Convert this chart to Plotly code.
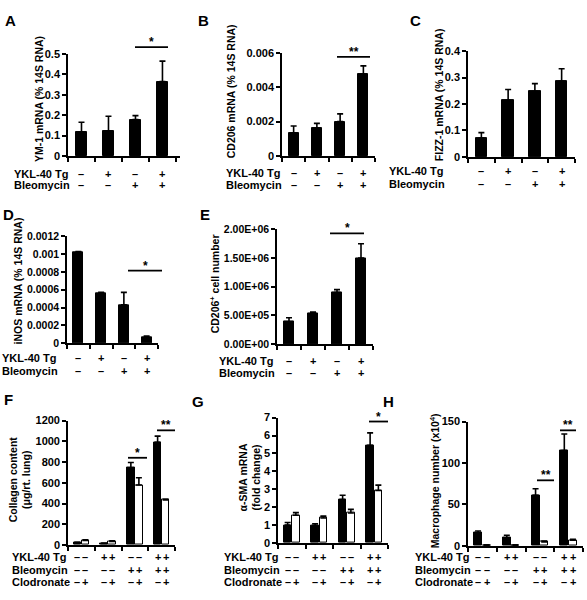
import plotly.graph_objects as go

# ---------------- data ----------------
groups4 = [0, 1, 2, 3]
ykl_signs_4 = ["–", "+", "–", "+"]
bleo_signs_4 = ["–", "–", "+", "+"]

ym1_mean = [0.115, 0.123, 0.178, 0.365]
ym1_err = [0.050, 0.072, 0.020, 0.100]

cd206_mean = [0.00135, 0.0016, 0.0020, 0.00475]
cd206_err = [0.00040, 0.00030, 0.00045, 0.00050]

fizz1_mean = [0.071, 0.213, 0.247, 0.286]
fizz1_err = [0.021, 0.042, 0.030, 0.047]

inos_mean = [0.00102, 0.00056, 0.00043, 0.00007]
inos_err = [0.00001, 0.00001, 0.00014, 0.00001]

cd206cells_mean = [3.9e5, 5.4e5, 9.0e5, 1.5e6]
cd206cells_err = [7e4, 2e4, 5e4, 2.5e5]

# grouped panels (black = no clodronate, white = clodronate)
ykl_signs_8 = ["–", "–", "+", "+", "–", "–", "+", "+"]
bleo_signs_8 = ["–", "–", "–", "–", "+", "+", "+", "+"]
clod_signs_8 = ["–", "+", "–", "+", "–", "+", "–", "+"]

collagen_black = [20, 15, 745, 990]
collagen_black_err = [5, 5, 50, 60]
collagen_white = [45, 35, 578, 435]
collagen_white_err = [5, 5, 70, 6]

sma_black = [1.0, 0.95, 2.42, 5.45]
sma_black_err = [0.15, 0.12, 0.25, 0.70]
sma_white = [1.55, 1.40, 1.68, 2.93]
sma_white_err = [0.15, 0.10, 0.20, 0.30]

mac_black = [16, 10, 61, 115]
mac_black_err = [2, 3, 8, 20]
mac_white = [1, 1, 5, 7]
mac_white_err = [0.5, 0.5, 1, 1]

# tick labels
ticks_A = [0, 0.1, 0.2, 0.3, 0.4, 0.5]
ticks_A_txt = ["0", "0.1", "0.2", "0.3", "0.4", "0.5"]
ticks_B = [0, 0.002, 0.004, 0.006]
ticks_B_txt = ["0", "0.002", "0.004", "0.006"]
ticks_C = [0, 0.1, 0.2, 0.3, 0.4]
ticks_C_txt = ["0", "0.1", "0.2", "0.3", "0.4"]
ticks_D = [0, 0.0002, 0.0004, 0.0006, 0.0008, 0.001, 0.0012]
ticks_D_txt = ["0", "0.0002", "0.0004", "0.0006", "0.0008", "0.001", "0.0012"]
ticks_E = [0, 5e5, 1e6, 1.5e6, 2e6]
ticks_E_txt = ["0.00E+00", "5.00E+05", "1.00E+06", "1.50E+06", "2.00E+06"]
ticks_F = [0, 200, 400, 600, 800, 1000, 1200]
ticks_F_txt = ["0", "200", "400", "600", "800", "1000", "1200"]
ticks_G = [0, 1, 2, 3, 4, 5, 6, 7]
ticks_G_txt = ["0", "1", "2", "3", "4", "5", "6", "7"]
ticks_H = [0, 50, 100, 150]
ticks_H_txt = ["0", "50", "100", "150"]

# ---------------- layout helpers ----------------
W, H = 587, 600
FONT = "Liberation Sans, Arial, sans-serif"
TAB = 11
TITLE = 10.5


def px(x):
    return x / W


def py(y):
    return 1 - y / H


fig = go.Figure()
annotations = []
shapes = []

# panel boxes in pixels: x0, x1, ytop, ybottom
panels = [
    dict(box=(68, 180, 49, 153), yr=0.5, xr=3.65, tv=ticks_A, tt=ticks_A_txt, fs=11),
    dict(box=(282, 375, 48, 153), yr=0.006, xr=3.5, tv=ticks_B, tt=ticks_B_txt, fs=11),
    dict(box=(468, 575, 46, 154), yr=0.4, xr=3.5, tv=ticks_C, tt=ticks_C_txt, fs=11),
    dict(box=(67, 158, 235, 344), yr=0.0012, xr=3.5, tv=ticks_D, tt=ticks_D_txt, fs=10.5),
    dict(box=(277, 373, 228, 345), yr=2e6, xr=3.5, tv=ticks_E, tt=ticks_E_txt, fs=10.5),
    dict(box=(68, 175, 423, 550), yr=1200, xr=3.5, tv=ticks_F, tt=ticks_F_txt, fs=11),
    dict(box=(278, 388, 420, 548), yr=7, xr=3.5, tv=ticks_G, tt=ticks_G_txt, fs=11),
    dict(box=(468, 583, 424, 551), yr=150, xr=3.5, tv=ticks_H, tt=ticks_H_txt, fs=11),
]

err_style = dict(type="data", symmetric=False, color="black", thickness=1.6, width=3)


def add_bar(i, xs, ys, err, color, width):
    sfx = "" if i == 1 else str(i)
    fig.add_trace(go.Bar(
        x=xs, y=ys, width=width,
        marker=dict(color=color, line=dict(color="black", width=1)),
        error_y=dict(array=err, arrayminus=[0] * len(err), **err_style),
        xaxis="x" + sfx, yaxis="y" + sfx, showlegend=False,
    ))


for i, p in enumerate(panels, start=1):
    x0, x1, yt, yb = p["box"]
    sfx = "" if i == 1 else str(i)
    fig.update_layout(**{
        "xaxis" + sfx: dict(
            domain=[px(x0), px(x1)], anchor="y" + sfx, range=[-0.5, p["xr"]],
            showline=True, linecolor="black", linewidth=1.6,
            ticks="outside", ticklen=4, tickwidth=1.6, tickcolor="black",
            tickvals=[-0.5, 0.5, 1.5, 2.5, 3.5], showticklabels=False,
            showgrid=False, zeroline=False, fixedrange=True,
        ),
        "yaxis" + sfx: dict(
            domain=[py(yb), py(yt)], anchor="x" + sfx, range=[0, p["yr"]],
            showline=True, linecolor="black", linewidth=1.6,
            ticks="outside", ticklen=4, tickwidth=1.6, tickcolor="black",
            tickvals=p["tv"], ticktext=p["tt"],
            tickfont=dict(family=FONT, size=p["fs"], color="black", weight="bold"),
            showgrid=False, zeroline=False, fixedrange=True,
        ),
    })

# single-group panels A-E
single = [ym1_mean, cd206_mean, fizz1_mean, inos_mean, cd206cells_mean]
single_err = [ym1_err, cd206_err, fizz1_err, inos_err, cd206cells_err]
for i in range(5):
    add_bar(i + 1, groups4, single[i], single_err[i], "black", 0.43)

# grouped panels F-H
OFF = 0.15
xb = [g - OFF for g in groups4]
xw = [g + OFF for g in groups4]
grouped = [
    (collagen_black, collagen_black_err, collagen_white, collagen_white_err),
    (sma_black, sma_black_err, sma_white, sma_white_err),
    (mac_black, mac_black_err, mac_white, mac_white_err),
]
for j, (b, be, w, we) in enumerate(grouped):
    add_bar(6 + j, xb, b, be, "black", 0.28)
    add_bar(6 + j, xw, w, we, "white", 0.28)


def txt(x, y, s, size=11, xref="paper", xanchor="center", angle=0):
    annotations.append(dict(
        x=x, y=y, xref=xref, yref="paper", text=s, showarrow=False,
        xanchor=xanchor, yanchor="middle", textangle=angle, borderpad=0,
        font=dict(family=FONT, size=size, color="black", weight="bold"),
    ))


# panel letters
for letter, (lx, ly) in zip("ABCDEFGH", [(10, 15), (203, 15), (415, 15), (8, 213), (205, 213),
                                         (8, 402), (198, 404), (388, 404)]):
    txt(px(lx), py(ly), letter, size=15)

# y titles
txt(px(39), py(95), "YM-1 mRNA (% 14S RNA)", size=TITLE, angle=-90)
txt(px(231), py(87), "CD206 mRNA (% 14S RNA)", size=TITLE, angle=-90)
txt(px(439), py(91), "FIZZ-1 mRNA (% 14S RNA)", size=TITLE, angle=-90)
txt(px(18), py(281), "iNOS mRNA (% 14S RNA)", size=TITLE, angle=-90)
txt(px(214), py(284), "CD206<sup>+</sup> cell number", size=TITLE, angle=-90)
txt(px(20), py(483), "Collagen content<br>(μg/rt. lung)", size=TITLE, angle=-90)
txt(px(250), py(481), "α-SMA mRNA<br>(fold change)", size=TITLE, angle=-90)
txt(px(434), py(485), "Macrophage number (x10<sup>4</sup>)", size=TITLE, angle=-90)

# treatment tables A-E
tables4 = [(13, 171, 183), (225, 170, 183), (388, 168, 182), (1, 359, 372), (218, 362, 374)]
for i, (lx, r1, r2) in enumerate(tables4, start=1):
    xr = "x" if i == 1 else "x" + str(i)
    txt(px(lx), py(r1), "YKL-40 Tg", size=TAB, xanchor="left")
    txt(px(lx), py(r2), "Bleomycin", size=TAB, xanchor="left")
    for g, s1, s2 in zip(groups4, ykl_signs_4, bleo_signs_4):
        txt(g, py(r1), s1, size=TAB, xref=xr)
        txt(g, py(r2), s2, size=TAB, xref=xr)

# treatment tables F-H
xs8 = [v for pair in zip(xb, xw) for v in pair]
for i, lx in zip([6, 7, 8], [11, 223, 414]):
    xr = "x" + str(i)
    txt(px(lx), py(562), "YKL-40 Tg", size=TAB, xanchor="left")
    txt(px(lx), py(575), "Bleomycin", size=TAB, xanchor="left")
    txt(px(lx), py(588), "Clodronate", size=TAB, xanchor="left")
    for x, s1, s2, s3 in zip(xs8, ykl_signs_8, bleo_signs_8, clod_signs_8):
        txt(x, py(562), s1, size=TAB, xref=xr)
        txt(x, py(575), s2, size=TAB, xref=xr)
        txt(x, py(588), s3, size=TAB, xref=xr)

# significance bars
sig = [
    (135, 168, 42, "*"), (337, 370, 52, "**"), (128, 162, 270, "*"), (330, 364, 232, "*"),
    (128, 147, 461, "*"), (157, 175, 433, "**"), (369, 388, 424, "*"),
    (537, 554, 484, "**"), (560, 576, 433, "**"),
]
for xa, xbp, yl, star in sig:
    shapes.append(dict(type="line", xref="paper", yref="paper", x0=px(xa), x1=px(xbp),
                       y0=py(yl), y1=py(yl), line=dict(color="black", width=1.8)))
    txt(px((xa + xbp) / 2), py(yl - 5), star, size=12)

fig.update_layout(
    width=W, height=H, margin=dict(l=0, r=0, t=0, b=0),
    paper_bgcolor="white", plot_bgcolor="white",
    barmode="overlay", bargap=0,
    font=dict(family=FONT, color="black"),
    annotations=annotations, shapes=shapes,
)

fig.write_html("out.html", config={"displayModeBar": False},
               post_script="document.body.style.margin='0px';")
